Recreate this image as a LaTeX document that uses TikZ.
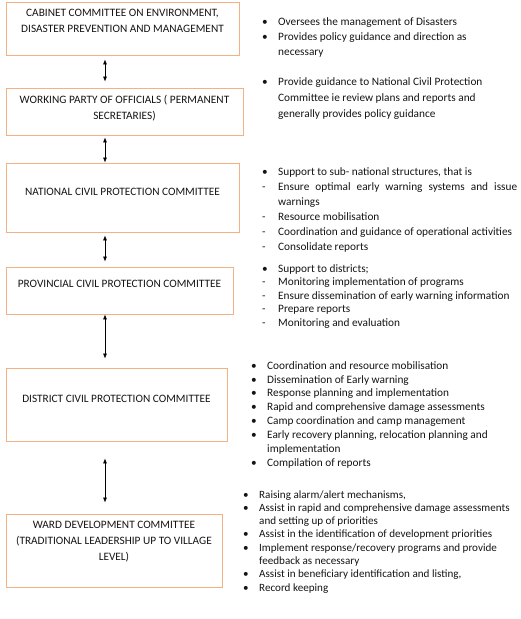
\documentclass[tikz,border=0pt]{standalone}
\usepackage{fontspec}
\setmainfont{Carlito}
\usetikzlibrary{arrows.meta}
\definecolor{tierline}{RGB}{244,177,131}
\definecolor{inktext}{RGB}{20,20,20}
\newcommand\bul{\makebox[16pt][l]{\textbullet}}
\newcommand\dsh{\makebox[16pt][l]{-}}
\newcommand\ind{\hspace*{16pt}}
\tikzset{
	tier/.style={draw=tierline, line width=0.9pt, inner sep=0pt},
	tiertext/.style={anchor=north, inner sep=0pt, align=center, text=inktext, font=\fontsize{11.3}{16}\selectfont},
	duties/.style={anchor=north west, inner sep=0pt, align=left, text=inktext, font=\fontsize{11.3}{#1}\selectfont},
	link/.style={{Latex[length=5pt,width=4pt]}-{Latex[length=5pt,width=4pt]}, line width=0.6pt},
}
\begin{document}
\begin{tikzpicture}[x=1pt, y=-1pt]
			%%%%% START %%%%%
			\useasboundingbox (0, 0) rectangle (520, 619);
			
			\node[tier, minimum width=233pt, minimum height=53pt, label={[tiertext, yshift=-7pt]north:{CABINET COMMITTEE ON ENVIRONMENT,\\ DISASTER PREVENTION AND MANAGEMENT}}] (cabinet) at (122.5, 28.5) {};
			\node[tier, minimum width=237pt, minimum height=47pt, label={[tiertext, yshift=-7.5pt]north:{WORKING PARTY OF OFFICIALS ( PERMANENT\\ SECRETARIES)}}] (working) at (124.5, 111.5) {};
			\node[tier, minimum width=233pt, minimum height=69pt, label={[tiertext, yshift=-25pt]north:{NATIONAL CIVIL PROTECTION COMMITTEE}}] (national) at (122.5, 197.5) {};
			\node[tier, minimum width=227pt, minimum height=47pt, label={[tiertext, yshift=-13pt]north:{PROVINCIAL CIVIL PROTECTION COMMITTEE}}] (provincial) at (119.5, 290.5) {};
			\node[tier, minimum width=221pt, minimum height=73pt, label={[tiertext, yshift=-27pt]north:{DISTRICT CIVIL PROTECTION COMMITTEE}}] (district) at (116.5, 404.5) {};
			\node[tier, minimum width=216pt, minimum height=73pt, label={[tiertext, yshift=-7pt]north:{WARD DEVELOPMENT COMMITTEE\\ (TRADITIONAL LEADERSHIP UP TO VILLAGE\\ LEVEL)}}] (ward) at (114, 550.5) {};
			
			\coordinate (spine) at (105, 0);
			\draw[link, shorten <=4pt, shorten >=6pt] (cabinet.south -| spine) -- (working.north -| spine);
			\draw[link, shorten <=2pt] (working.south -| spine) -- (national.north -| spine);
			\draw[link, shorten <=3pt, shorten >=5pt] (national.south -| spine) -- (provincial.north -| spine);
			\draw[link, shorten >=9pt] (provincial.south -| spine) -- (district.north -| spine);
			\draw[link, shorten <=17pt, shorten >=11pt] (district.south -| spine) -- (ward.north -| spine);
			
			\node[duties=15] (cabinetroles) at (262, 17.1) {\bul Oversees the management of Disasters\\
				\bul Provides policy guidance and direction as\\
				\ind necessary};
			
			\node[duties=16] (workingroles) at (262, 77.1) {\bul Provide guidance to National Civil Protection\\
				\ind Committee ie review plans and reports and\\
				\ind generally provides policy guidance};
			
			\node[duties=15] (nationalroles) at (262, 167.1) {\bul Support to sub- national structures, that is\\
				\dsh \makebox[239pt][s]{Ensure optimal early warning systems and issue}\\
				\ind warnings\\
				\dsh Resource mobilisation\\
				\dsh Coordination and guidance of operational activities\\
				\dsh Consolidate reports};
			
			\node[duties=13.5] (provincialroles) at (262, 264.1) {\bul Support to districts;\\
				\dsh Monitoring implementation of programs\\
				\dsh Ensure dissemination of early warning information\\
				\dsh Prepare reports\\
				\dsh Monitoring and evaluation};
			
			\node[duties=13.9] (districtroles) at (251, 361.1) {\bul Coordination and resource mobilisation\\
				\bul Dissemination of Early warning\\
				\bul Response planning and implementation\\
				\bul Rapid and comprehensive damage assessments\\
				\bul Camp coordination and camp management\\
				\bul Early recovery planning, relocation planning and\\
				\ind implementation\\
				\bul Compilation of reports};
			
			\node[duties=13.3, font=\fontsize{11.1}{13.3}\selectfont] (wardroles) at (243, 490.1) {\bul Raising alarm/alert mechanisms,\\
				\bul Assist in rapid and comprehensive damage assessments\\
				\ind and setting up of priorities\\
				\bul Assist in the identification of development priorities\\
				\bul Implement response/recovery programs and provide\\
				\ind feedback as necessary\\
				\bul Assist in beneficiary identification and listing,\\
				\bul Record keeping};
			
			%%%%% END %%%%%
\end{tikzpicture}
\end{document}
